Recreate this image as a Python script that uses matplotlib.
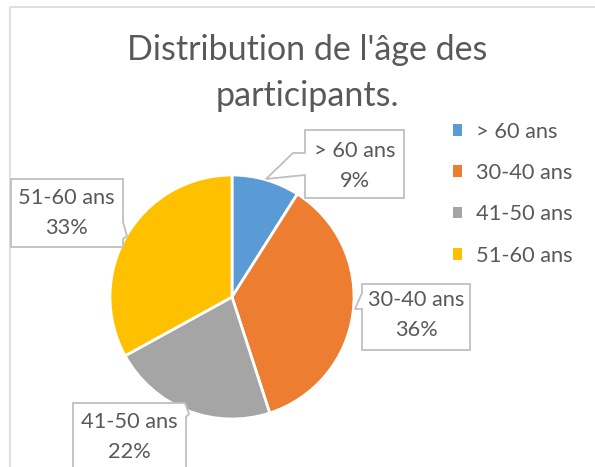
import matplotlib.pyplot as plt
from matplotlib.patches import Polygon, Rectangle

# age groups, clockwise from 12 o'clock
labels = ["> 60 ans", "30-40 ans", "41-50 ans", "51-60 ans"]
shares = [9, 36, 22, 33]
colors = ["#5B9BD5", "#ED7D31", "#A5A5A5", "#FFC000"]

title = "Distribution de l'âge des\nparticipants."
text_color = "#595959"
box_color = "#BFBFBF"

plt.rcParams["font.family"] = ["Lato", "DejaVu Sans"]

W, H = 595, 467
fig = plt.figure(figsize=(W / 100, H / 100), dpi=100)
ax = fig.add_axes([0, 0, 1, 1])

# chart frame
ax.add_patch(Rectangle((10, 7), 700, 600, fill=False, ec="#D9D9D9", lw=1.2))

# y axis is inverted below, so counterclock in data = clockwise on screen
wedges, _ = ax.pie(shares, colors=colors, startangle=-90, counterclock=True,
                   center=(232, 297), radius=122, frame=True,
                   wedgeprops=dict(edgecolor="white", linewidth=2))
ax.set_xlim(0, W)
ax.set_ylim(H, 0)  # pixel-like coordinates, y grows downward
ax.set_aspect("equal")
ax.axis("off")

ax.text(307, 73, title, ha="center", va="center", fontsize=24.5,
        color=text_color, linespacing=1.52)

# data-label callouts: outline polygons and their text centres
callouts = [
    ([(305, 130), (305, 153), (293, 153), (266, 179), (305, 175),
      (305, 198), (404, 198), (404, 130)], (355, 166)),
    ([(362, 284), (362, 293), (355, 309), (362, 309), (362, 350),
      (470, 350), (470, 284)], (416, 315)),
    ([(73, 403), (185, 403), (189, 414), (186, 417), (186, 480),
      (73, 480)], (129, 437)),
    ([(11, 179), (123, 179), (123, 222), (127, 236), (123, 239),
      (123, 247), (11, 247)], (66, 213)),
]
for (verts, (tx, ty)), lab, val in zip(callouts, labels, shares):
    ax.add_patch(Polygon(verts, closed=True, fc="white", ec=box_color,
                         lw=1.3, zorder=3))
    ax.text(tx, ty, f"{lab}\n{val}%", ha="center", va="center",
            fontsize=15.7, color=text_color, linespacing=1.62, zorder=4)

leg = ax.legend(wedges, labels, loc="upper left",
                bbox_to_anchor=(433 / W, 1 - 102 / H), frameon=False,
                fontsize=15.7, handlelength=0.45, handleheight=0.45,
                handletextpad=0.6, labelspacing=0.98, labelcolor=text_color)
for h in leg.legend_handles:
    h.set_edgecolor("none")

fig.savefig("out.png", dpi=100)
